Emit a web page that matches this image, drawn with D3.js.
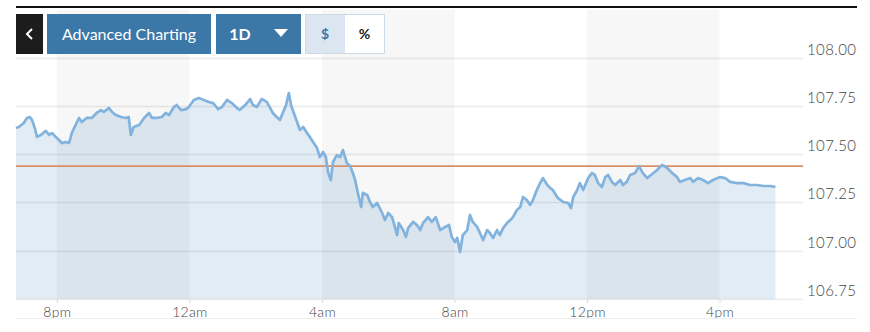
<!DOCTYPE html>
<html>
<head>
<meta charset="utf-8">
<script src="https://cdn.jsdelivr.net/npm/d3@7/dist/d3.min.js"></script>
<style>
    body { margin: 0; background: #fff; }
    svg { display: block; font-family: Lato, "Open Sans", sans-serif; }
</style>
</head>
<body>
<svg id="chart"></svg>
<script>
// minutes relative to 8pm, and price at that minute
var minutes = [-74, -69, -60, -54, -49, -45, -40, -36, -29, -20, -14, -9, -2, 4, 9, 16, 22, 27, 34, 40,
    45, 54, 63, 72, 80, 85, 94, 100, 107, 116, 125, 130, 134, 139, 149, 158, 167, 172, 181, 190,
    197, 203, 212, 217, 225, 234, 239, 248, 257, 266, 275, 283, 292, 299, 308, 317, 326, 331, 341, 350,
    355, 362, 371, 380, 386, 391, 398, 404, 409, 415, 420, 424, 429, 435, 440, 446, 453, 458, 464, 471,
    476, 482, 487, 491, 496, 500, 507, 513, 518, 525, 531, 536, 540, 545, 551, 554, 562, 567, 572, 580,
    589, 594, 600, 607, 612, 616, 619, 627, 632, 636, 645, 652, 658, 663, 672, 679, 686, 694, 703, 710,
    715, 721, 725, 730, 735, 743, 748, 753, 761, 766, 772, 779, 784, 790, 797, 802, 808, 815, 821, 826,
    833, 839, 844, 851, 857, 862, 869, 875, 880, 888, 893, 898, 907, 917, 926, 931, 935, 942, 947, 953,
    962, 969, 974, 980, 987, 993, 998, 1005, 1011, 1020, 1025, 1032, 1038, 1047, 1054, 1061, 1069, 1078, 1087, 1096,
    1105, 1114, 1123, 1128, 1137, 1147, 1152, 1161, 1170, 1179, 1188, 1201, 1210, 1219, 1232, 1243, 1255, 1268, 1279, 1291,
    1301];
var prices = [107.635, 107.640, 107.661, 107.687, 107.692, 107.677, 107.635, 107.589, 107.599, 107.620, 107.599, 107.609, 107.589, 107.573, 107.557, 107.563, 107.557, 107.609, 107.651, 107.687,
    107.666, 107.687, 107.687, 107.713, 107.728, 107.718, 107.739, 107.718, 107.702, 107.692, 107.687, 107.692, 107.599, 107.640, 107.651, 107.687, 107.713, 107.687, 107.687, 107.692,
    107.713, 107.702, 107.744, 107.754, 107.728, 107.733, 107.744, 107.780, 107.790, 107.780, 107.770, 107.764, 107.733, 107.744, 107.780, 107.764, 107.739, 107.728, 107.754, 107.785,
    107.754, 107.744, 107.785, 107.770, 107.739, 107.713, 107.692, 107.677, 107.713, 107.754, 107.816, 107.754, 107.713, 107.666, 107.625, 107.640, 107.609, 107.589, 107.563, 107.532,
    107.485, 107.511, 107.485, 107.407, 107.366, 107.459, 107.495, 107.485, 107.521, 107.454, 107.438, 107.402, 107.366, 107.299, 107.226, 107.299, 107.288, 107.252, 107.226, 107.247,
    107.195, 107.159, 107.195, 107.174, 107.123, 107.081, 107.143, 107.107, 107.071, 107.117, 107.149, 107.133, 107.107, 107.143, 107.174, 107.149, 107.174, 107.107, 107.123, 107.133,
    107.071, 107.045, 107.066, 106.993, 107.081, 107.107, 107.185, 107.149, 107.123, 107.092, 107.055, 107.107, 107.092, 107.066, 107.107, 107.081, 107.117, 107.143, 107.159, 107.174,
    107.211, 107.226, 107.278, 107.262, 107.237, 107.262, 107.314, 107.350, 107.376, 107.340, 107.325, 107.314, 107.273, 107.252, 107.247, 107.221, 107.278, 107.314, 107.350, 107.314,
    107.376, 107.402, 107.392, 107.350, 107.330, 107.381, 107.392, 107.356, 107.340, 107.366, 107.340, 107.356, 107.392, 107.402, 107.438, 107.402, 107.376, 107.397, 107.418, 107.444,
    107.428, 107.402, 107.381, 107.356, 107.366, 107.376, 107.356, 107.376, 107.366, 107.350, 107.366, 107.381, 107.376, 107.356, 107.350, 107.350, 107.340, 107.340, 107.335, 107.335,
    107.330];
var prevClose = 107.438;
var yTicks = [106.75, 107.00, 107.25, 107.50, 107.75, 108.00];
var domainMinutes = [-74, 1351];
var buttons = ["Advanced Charting", "1D"];
var toggles = ["$", "%"];

var width = 870, height = 332;
var svg = d3.select("#chart").attr("width", width).attr("height", height);

var base = new Date(2024, 0, 1, 20, 0);
function toDate(m) { return new Date(base.getTime() + m * 60000); }

var data = minutes.map(function (m, i) { return { t: toDate(m), v: prices[i] }; });

var x = d3.scaleTime()
    .domain(domainMinutes.map(toDate))
    .range([16, 803]);
var y = d3.scaleLinear()
    .domain([106.75, 108.00])
    .range([299, 57.5]);

var hourTicks = x.ticks(d3.timeHour.every(4));

// area first, bands darken on top of it
svg.append("path")
    .datum(data)
    .attr("fill", "#e2ecf4")
    .attr("d", d3.area().x(function (d) { return x(d.t); }).y0(y(106.75)).y1(function (d) { return y(d.v); }));

// alternating shaded bands between hour ticks
for (var i = 0; i < hourTicks.length - 1; i += 2) {
    svg.append("rect")
        .attr("x", x(hourTicks[i]))
        .attr("y", 10)
        .attr("width", x(hourTicks[i + 1]) - x(hourTicks[i]))
        .attr("height", y(106.75) - 10)
        .attr("fill", "rgba(0,0,0,0.03)");
}

// grid lines
svg.append("g").selectAll("line")
    .data(yTicks)
    .enter().append("line")
    .attr("x1", 16).attr("x2", 803)
    .attr("y1", function (d) { return Math.round(y(d)) + 0.5; })
    .attr("y2", function (d) { return Math.round(y(d)) + 0.5; })
    .attr("stroke", "rgba(0,0,0,0.08)")
    .attr("stroke-width", 1.5);

// y labels on the right
svg.append("g").selectAll("text")
    .data(yTicks)
    .enter().append("text")
    .attr("x", 807)
    .attr("y", function (d) { return y(d) - 3; })
    .attr("font-size", "15px")
    .attr("font-weight", 300)
    .attr("letter-spacing", "0.4px")
    .attr("fill", "#444")
    .text(function (d) { return d.toFixed(2); });

// previous close
svg.append("line")
    .attr("x1", 16).attr("x2", 803)
    .attr("y1", y(prevClose)).attr("y2", y(prevClose))
    .attr("stroke", "#d98f66")
    .attr("stroke-width", 1.6);

svg.append("path")
    .datum(data)
    .attr("fill", "none")
    .attr("stroke", "#82b2de")
    .attr("stroke-width", 2.7)
    .attr("stroke-linejoin", "round")
    .attr("d", d3.line().x(function (d) { return x(d.t); }).y(function (d) { return y(d.v); }));

// x axis
var xAxis = d3.axisBottom(x)
    .tickValues(hourTicks)
    .tickSize(4)
    .tickPadding(4)
    .tickFormat(function (d) { return d3.timeFormat("%-I%p")(d).toLowerCase(); });
var gx = svg.append("g").attr("transform", "translate(0," + y(106.75) + ")").call(xAxis);
gx.select(".domain").remove();
gx.selectAll(".tick line").attr("stroke", "#ddd");
gx.selectAll(".tick text").attr("fill", "#444").attr("font-size", "14px")
    .attr("font-weight", 300).attr("letter-spacing", "0.3px").attr("font-family", "Lato, sans-serif");

svg.append("line")
    .attr("x1", 16).attr("x2", 857)
    .attr("y1", 318.5).attr("y2", 318.5)
    .attr("stroke", "#eee");

// top rule
svg.append("rect")
    .attr("x", 16).attr("y", 6)
    .attr("width", 841).attr("height", 2)
    .attr("fill", "#111");

// toolbar
svg.append("rect").attr("x", 16).attr("y", 14).attr("width", 27).attr("height", 40).attr("fill", "#1c1c1c");
svg.append("path")
    .attr("d", "M32,29 L27,34 L32,39")
    .attr("fill", "none").attr("stroke", "#fff").attr("stroke-width", 2);

svg.append("rect").attr("x", 47).attr("y", 14).attr("width", 164).attr("height", 40).attr("fill", "#3b78a8");
svg.append("text").attr("x", 129).attr("y", 40).attr("text-anchor", "middle")
    .attr("font-size", "16px").attr("fill", "#fff").text(buttons[0]);

svg.append("rect").attr("x", 216).attr("y", 14).attr("width", 85).attr("height", 40).attr("fill", "#3b78a8");
svg.append("text").attr("x", 240).attr("y", 40).attr("text-anchor", "middle")
    .attr("font-size", "16px").attr("font-weight", "bold").attr("fill", "#fff").text(buttons[1]);
svg.append("path").attr("d", "M274,29 L288,29 L281,37 Z").attr("fill", "#fff");

svg.append("rect").attr("x", 305.5).attr("y", 14.5).attr("width", 79).attr("height", 39)
    .attr("fill", "#fff").attr("stroke", "#cdd9e5");
svg.append("rect").attr("x", 306).attr("y", 15).attr("width", 39).attr("height", 38).attr("fill", "#dbe6f0");
svg.append("text").attr("x", 325).attr("y", 39).attr("text-anchor", "middle")
    .attr("font-size", "14px").attr("font-weight", "bold").attr("fill", "#3b78a8").text(toggles[0]);
svg.append("text").attr("x", 364.5).attr("y", 39).attr("text-anchor", "middle")
    .attr("font-size", "14px").attr("font-weight", "bold").attr("fill", "#222").text(toggles[1]);
</script>
</body>
</html>
